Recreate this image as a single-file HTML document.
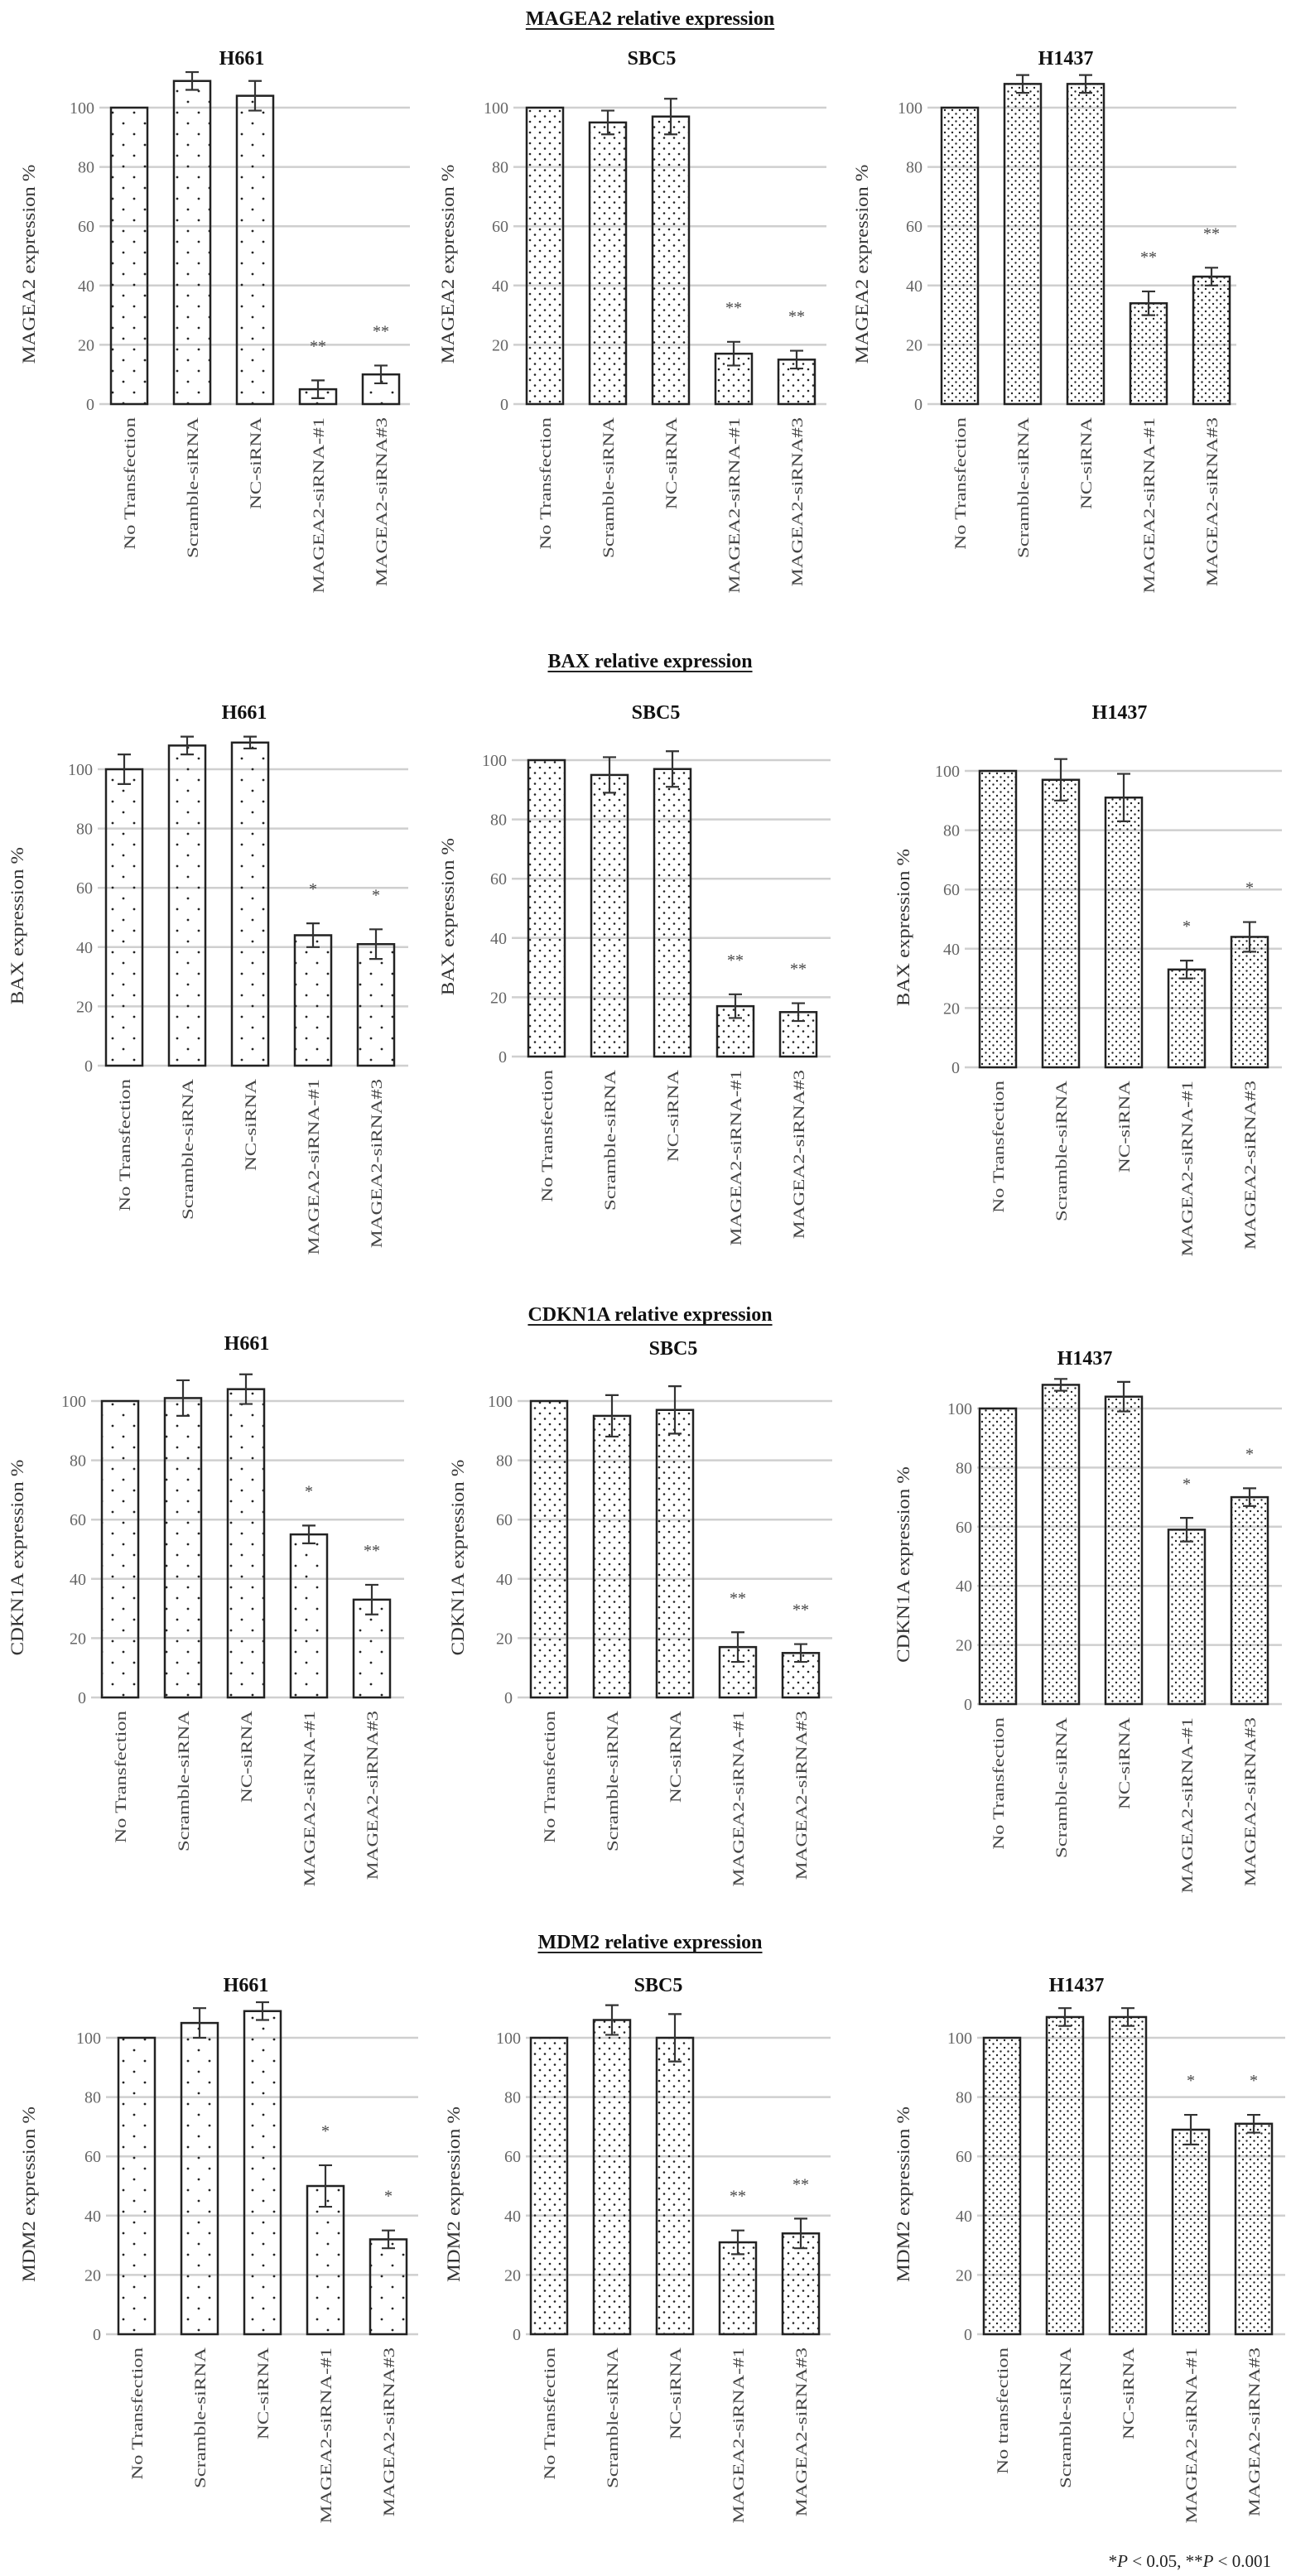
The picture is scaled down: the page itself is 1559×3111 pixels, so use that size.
<!DOCTYPE html>
<html><head><meta charset="utf-8">
<style>
html,body{margin:0;padding:0;background:#fff;}
svg{display:block;font-family:"Liberation Serif",serif;}
</style></head>
<body>
<svg id="fig" width="1559" height="3111" viewBox="0 0 1559 3111" xmlns="http://www.w3.org/2000/svg">
<defs>
<pattern id="pSparse" width="26" height="26" patternUnits="userSpaceOnUse">
<circle cx="6" cy="6" r="1.4" fill="#222"/><circle cx="19" cy="19" r="1.4" fill="#222"/>
</pattern>
<pattern id="pMed" width="12" height="13" patternUnits="userSpaceOnUse">
<circle cx="4" cy="4" r="1.3" fill="#222"/><circle cx="10" cy="10.5" r="1.3" fill="#222"/>
</pattern>
<pattern id="pDense" width="9" height="9" patternUnits="userSpaceOnUse">
<circle cx="2.5" cy="2.5" r="1.2" fill="#222"/><circle cx="7" cy="7" r="1.2" fill="#222"/>
</pattern>
</defs>
<g id="root"></g>
</svg>
<script>
const categories = ["No Transfection","Scramble-siRNA","NC-siRNA","MAGEA2-siRNA-#1","MAGEA2-siRNA#3"];
const categoriesAlt = ["No transfection","Scramble-siRNA","NC-siRNA","MAGEA2-siRNA-#1","MAGEA2-siRNA#3"];
const yTicks = [0,20,40,60,80,100];

const magea2H661 = [100,109,104,5,10];   const magea2H661Err = [0,3,5,3,3];  const magea2H661Sig = ["","","","**","**"];
const magea2SBC5 = [100,95,97,17,15];    const magea2SBC5Err = [0,4,6,4,3];  const magea2SBC5Sig = ["","","","**","**"];
const magea2H1437 = [100,108,108,34,43]; const magea2H1437Err = [0,3,3,4,3]; const magea2H1437Sig = ["","","","**","**"];

const baxH661 = [100,108,109,44,41];     const baxH661Err = [5,3,2,4,5];     const baxH661Sig = ["","","","*","*"];
const baxSBC5 = [100,95,97,17,15];       const baxSBC5Err = [0,6,6,4,3];     const baxSBC5Sig = ["","","","**","**"];
const baxH1437 = [100,97,91,33,44];      const baxH1437Err = [0,7,8,3,5];    const baxH1437Sig = ["","","","*","*"];

const cdkn1aH661 = [100,101,104,55,33];  const cdkn1aH661Err = [0,6,5,3,5];  const cdkn1aH661Sig = ["","","","*","**"];
const cdkn1aSBC5 = [100,95,97,17,15];    const cdkn1aSBC5Err = [0,7,8,5,3];  const cdkn1aSBC5Sig = ["","","","**","**"];
const cdkn1aH1437 = [100,108,104,59,70]; const cdkn1aH1437Err = [0,2,5,4,3]; const cdkn1aH1437Sig = ["","","","*","*"];

const mdm2H661 = [100,105,109,50,32];    const mdm2H661Err = [0,5,3,7,3];    const mdm2H661Sig = ["","","","*","*"];
const mdm2SBC5 = [100,106,100,31,34];    const mdm2SBC5Err = [0,5,8,4,5];    const mdm2SBC5Sig = ["","","","**","**"];
const mdm2H1437 = [100,107,107,69,71];   const mdm2H1437Err = [0,3,3,5,3];   const mdm2H1437Sig = ["","","","*","*"];

const NS = "http://www.w3.org/2000/svg";
const root = document.getElementById("root");
function mk(tag, attrs, parent, text){
  const e = document.createElementNS(NS, tag);
  for (const k in attrs) e.setAttribute(k, attrs[k]);
  if (text !== undefined) e.textContent = text;
  (parent || root).appendChild(e);
  return e;
}

const rowTitles = [["MAGEA2 relative expression",30],["BAX relative expression",806],["CDKN1A relative expression",1595],["MDM2 relative expression",2353]];
rowTitles.forEach(function(r){
  const t = mk("text",{x:785,y:r[1],"text-anchor":"middle","font-size":"24","font-weight":"bold","fill":"#111"},root,r[0]);
  
  
  const w = t.getComputedTextLength ? t.getComputedTextLength() : r[0].length*11.6;
  mk("line",{x1:785-w/2,x2:785+w/2,y1:r[1]+5,y2:r[1]+5,stroke:"#222","stroke-width":"2"});
});

const panels = [
 {v:magea2H661,e:magea2H661Err,s:magea2H661Sig,cell:"H661",yt:"MAGEA2  expression %",y100:130,y0:488,gx0:120,gx1:495,bx0:134,tx:292,ty:78,ytx:42,pat:"pSparse",cats:categories},
 {v:magea2SBC5,e:magea2SBC5Err,s:magea2SBC5Sig,cell:"SBC5",yt:"MAGEA2  expression %",y100:130,y0:488,gx0:620,gx1:998,bx0:636,tx:787,ty:78,ytx:548,pat:"pMed",cats:categories},
 {v:magea2H1437,e:magea2H1437Err,s:magea2H1437Sig,cell:"H1437",yt:"MAGEA2  expression %",y100:130,y0:488,gx0:1120,gx1:1493,bx0:1137,tx:1287,ty:78,ytx:1048,pat:"pDense",cats:categories},

 {v:baxH661,e:baxH661Err,s:baxH661Sig,cell:"H661",yt:"BAX  expression %",y100:929,y0:1287,gx0:118,gx1:493,bx0:128,tx:295,ty:868,ytx:28,pat:"pSparse",cats:categories},
 {v:baxSBC5,e:baxSBC5Err,s:baxSBC5Sig,cell:"SBC5",yt:"BAX expression %",y100:918,y0:1276,gx0:618,gx1:1003,bx0:638,tx:792,ty:868,ytx:548,pat:"pMed",cats:categories},
 {v:baxH1437,e:baxH1437Err,s:baxH1437Sig,cell:"H1437",yt:"BAX expression %",y100:931,y0:1289,gx0:1165,gx1:1548,bx0:1183,tx:1352,ty:868,ytx:1098,pat:"pDense",cats:categories},

 {v:cdkn1aH661,e:cdkn1aH661Err,s:cdkn1aH661Sig,cell:"H661",yt:"CDKN1A  expression %",y100:1692,y0:2050,gx0:110,gx1:488,bx0:123,tx:298,ty:1630,ytx:28,pat:"pSparse",cats:categories},
 {v:cdkn1aSBC5,e:cdkn1aSBC5Err,s:cdkn1aSBC5Sig,cell:"SBC5",yt:"CDKN1A expression %",y100:1692,y0:2050,gx0:625,gx1:1005,bx0:641,tx:813,ty:1636,ytx:560,pat:"pMed",cats:categories},
 {v:cdkn1aH1437,e:cdkn1aH1437Err,s:cdkn1aH1437Sig,cell:"H1437",yt:"CDKN1A expression %",y100:1701,y0:2058,gx0:1180,gx1:1548,bx0:1183,tx:1310,ty:1648,ytx:1098,pat:"pDense",cats:categories},

 {v:mdm2H661,e:mdm2H661Err,s:mdm2H661Sig,cell:"H661",yt:"MDM2 expression %",y100:2461,y0:2819,gx0:128,gx1:505,bx0:143,tx:297,ty:2405,ytx:42,pat:"pSparse",cats:categories},
 {v:mdm2SBC5,e:mdm2SBC5Err,s:mdm2SBC5Sig,cell:"SBC5",yt:"MDM2 expression %",y100:2461,y0:2819,gx0:635,gx1:1003,bx0:641,tx:795,ty:2405,ytx:555,pat:"pMed",cats:categories},
 {v:mdm2H1437,e:mdm2H1437Err,s:mdm2H1437Sig,cell:"H1437",yt:"MDM2 expression %",y100:2461,y0:2819,gx0:1180,gx1:1552,bx0:1188,tx:1300,ty:2405,ytx:1098,pat:"pDense",cats:categoriesAlt}
];

const PITCH = 76, BW = 44;
panels.forEach(function(p, pi){
  const g = mk("g",{});
  
  
  const yScale = function(val){ return p.y0 - (p.y0 - p.y100) * val / 100; };
  const xLeft = function(i){ return p.bx0 + i * PITCH; };

  const title = mk("text",{x:p.tx,y:p.ty,"text-anchor":"middle","font-size":"24","font-weight":"bold",fill:"#111"},g,p.cell);
  
  

  yTicks.forEach(function(t){
    const y = yScale(t);
    const gl = mk("line",{x1:p.gx0,x2:p.gx1,y1:y,y2:y,stroke:"#cfcfcf","stroke-width":"2.5"},g);
    
    
    const tl = mk("text",{x:p.gx0-6,y:y+7,"text-anchor":"end","font-size":"20",fill:"#666"},g,String(t));
    
    
  });

  const cy = (p.y0 + p.y100)/2 + 10;
  const yt = mk("text",{x:0,y:0,"text-anchor":"middle","font-size":"22",fill:"#333",transform:"translate("+p.ytx+" "+cy+") rotate(-90) scale(1.12 1)","xml:space":"preserve"},g,p.yt);
  
  

  p.v.forEach(function(val, i){
    const x = xLeft(i), top = yScale(val), cx = x + BW/2;
    const bar = mk("rect",{x:x,y:top,width:BW,height:p.y0-top,fill:"url(#"+p.pat+")",stroke:"#222","stroke-width":"2.5"},g);
    
    
    const err = p.e[i];
    if (err > 0) {
      const hi = yScale(val+err), lo = yScale(val-err);
      const eb = mk("path",{d:"M"+cx+" "+hi+"V"+lo+"M"+(cx-8)+" "+hi+"H"+(cx+8)+"M"+(cx-8)+" "+lo+"H"+(cx+8),stroke:"#333","stroke-width":"2.2",fill:"none"},g);
      
      
    }
    if (p.s[i]) {
      const sy = yScale(val+err+12) + 8;
      const st = mk("text",{x:cx,y:sy,"text-anchor":"middle","font-size":"20",fill:"#444"},g,p.s[i]);
      
      
    }
    const ly = p.y0 + 16;
    const lb = mk("text",{x:0,y:0,"text-anchor":"end","font-size":"19",fill:"#444",transform:"translate("+(cx+7)+" "+ly+") rotate(-90) scale(1.3 1)"},g,p.cats[i]);
    
    
  });
});

const fn = mk("text",{x:1535,y:3100,"text-anchor":"end","font-size":"21",fill:"#222"});


fn.innerHTML = '*<tspan font-style="italic">P</tspan> &lt; 0.05,  **<tspan font-style="italic">P</tspan> &lt; 0.001';
</script>
</body></html>
